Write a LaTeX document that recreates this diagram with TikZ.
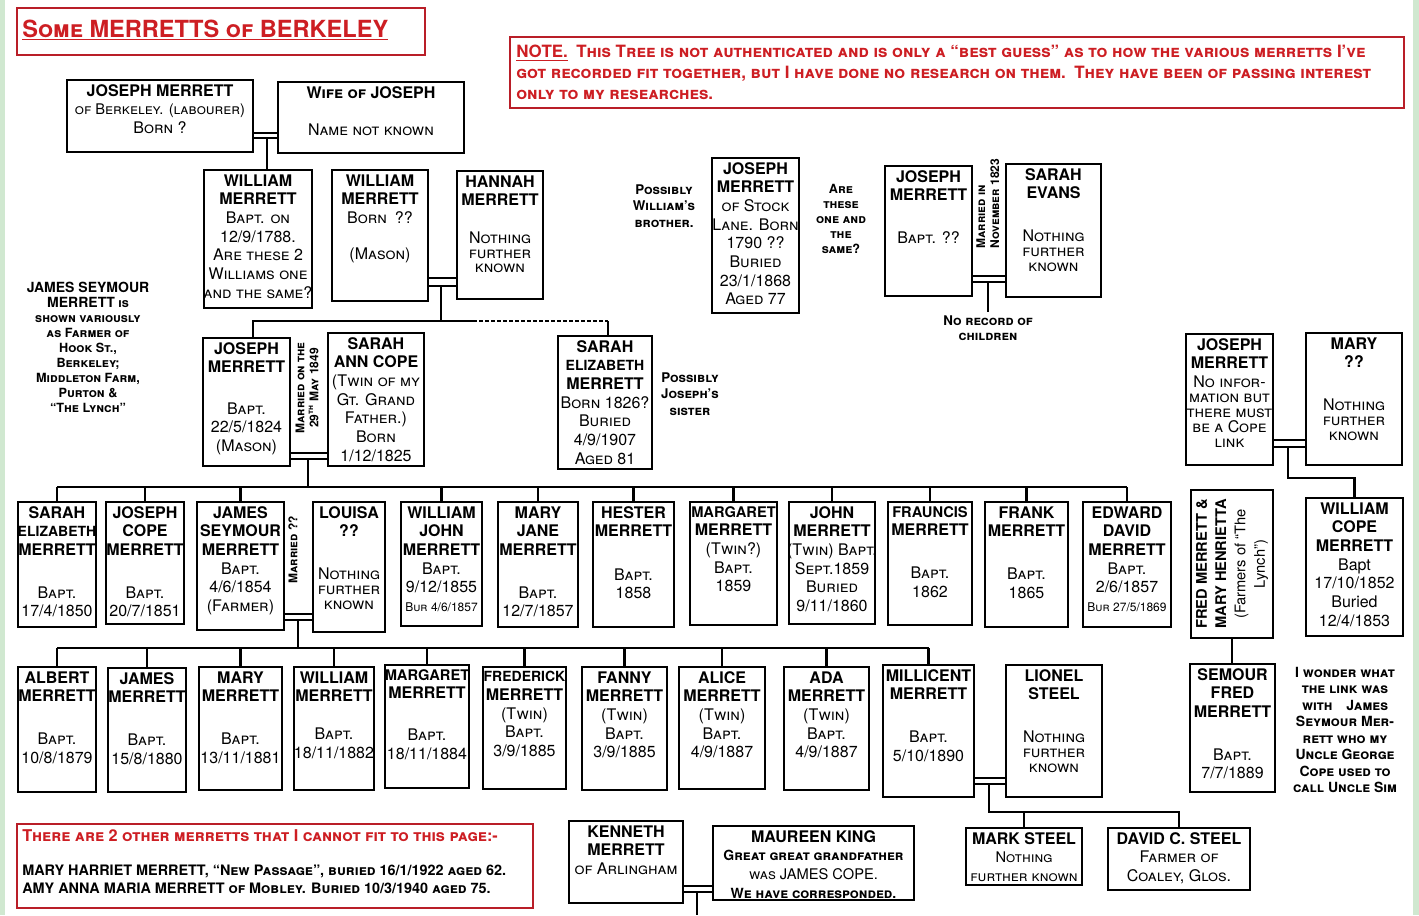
\documentclass[tikz,border=0pt]{standalone}
\usepackage{fontspec}
\setmainfont{TeX Gyre Heros}
\usetikzlibrary{fit}
\definecolor{tred}{RGB}{205,30,35}
\definecolor{bred}{RGB}{185,30,40}
\definecolor{bgg}{RGB}{208,232,208}
\tikzset{
 box/.style={draw, line width=1.8pt, inner sep=0pt, minimum size=0pt, rectangle},
 btext/.style={anchor=north, align=center, inner sep=0pt, font=\fontsize{12}{14}\selectfont\scshape},
 conn/.style={line width=1.9pt},
 marr/.style={line width=1.1pt},
 note/.style={align=center, inner sep=0pt, font=\fontsize{10}{12.5}\selectfont\bfseries\scshape},
 redbox/.style={draw=bred, line width=2pt, inner sep=0pt, minimum size=0pt, rectangle},
 rot/.style={rotate=90, align=center, inner sep=0pt, font=\fontsize{9}{10.5}\selectfont\bfseries\scshape},
}
\newcommand\nm[1]{{\bfseries #1}}
\newcommand\nmn[1]{{\bfseries\fontsize{10.5}{14}\selectfont #1}}
\newcommand\NFK{Nothing\\[-2.8pt]further\\[-2.8pt]known}
\newcommand\pbox[6]{%
  \node[box, fit={(#2,#3) (#4,#5)}] (#1) {};
  \node[btext] (#1-t) at ([yshift=-4pt]#1.north) {#6};}
\newcommand\marry[4]{%
  \draw[marr] (#1.east |- 0,#3) -- (#2.west |- 0,#3);
  \draw[marr] (#1.east |- 0,#4) -- (#2.west |- 0,#4);}
\begin{document}
\begin{tikzpicture}[x=0.75pt,y=-0.75pt]
\useasboundingbox (0,0) rectangle (1419,915);
\fill[bgg] (0,0) rectangle (1419,915);
\fill[white] (5,0) rectangle (1413,915);

% title and note
\node[redbox, fit={(17,8) (425,55)}] (title) {};
\node[anchor=west, inner sep=0pt, text=tred, font=\fontsize{17.7}{20}\selectfont\bfseries] (title-t) at (22,30) {\underline{\textsc{Some} MERRETTS \textsc{of} BERKELEY}};
\node[redbox, fit={(510,37) (1404,108)}] (note) {};
\node[anchor=north west, inner sep=0pt, text=tred, align=left, font=\fontsize{12.7}{15.75}\selectfont\bfseries\scshape] (note-t) at (516,45) {\underline{NOTE.}\enspace This Tree is not authenticated and is only a “best guess” as to how the various merretts I’ve\\got recorded fit together, but I have done no research on them.\enspace They have been of passing interest\\only to my researches.};

% generation 1
\pbox{jm1}{67}{80}{253}{152}{\nm{JOSEPH MERRETT}\\{\fontsize{11}{13}\selectfont of Berkeley. (labourer)}\\Born ?}
\pbox{wj}{278}{82}{464}{153}{\nm{Wife of JOSEPH}\\[14pt]Name not known}
\marry{jm1}{wj}{133}{138}
\coordinate (d1) at (267,138);
\draw[conn] (d1) -- (d1 |- 0,170);

% generation 2
\pbox{wm1}{204}{170}{312}{308}{\nm{WILLIAM}\\\nm{MERRETT}\\Bapt. on\\12/9/1788.\\Are these 2\\Williams one\\and the same?}
\pbox{wm2}{332}{170}{428}{301}{\nm{WILLIAM}\\\nm{MERRETT}\\Born\enspace ??\\[13pt](Mason)}
\pbox{hm}{457}{171}{543}{299}{\nm{HANNAH}\\\nm{MERRETT}\\[14pt]\NFK}
\marry{wm2}{hm}{278}{286}
\pbox{jsl}{712}{158}{799}{313}{\nm{JOSEPH}\\\nm{MERRETT}\\of Stock\\Lane. Born\\1790 ??\\Buried\\23/1/1868\\Aged 77}
\pbox{jm2}{885}{166}{972}{296}{\nm{JOSEPH}\\\nm{MERRETT}\\[18pt]Bapt. ??}
\pbox{se}{1006}{164}{1101}{297}{\nm{SARAH}\\\nm{EVANS}\\[18pt]\NFK}
\marry{jm2}{se}{276}{282}
\coordinate (d3) at (988,282);
\coordinate (d3e) at (988,312);
\draw[conn] (d3) -- (d3e);
\node[rot, anchor=north west, align=left] (mr2) at (976,249) {Married in\\November 1823};

\node[note] (n1) at (664,206) {Possibly\\William’s\\brother.};
\node[note, font=\fontsize{9.5}{11.2}\selectfont\bfseries\scshape] (n2) at (841,219) {Are\\these\\one and\\the\\same?};
\node[note, font=\fontsize{10}{11.3}\selectfont\bfseries\scshape] (n3) at (988,328) {No record of\\children};

% generation 3
\pbox{jm3}{203}{338}{290}{466}{\nm{JOSEPH}\\\nm{MERRETT}\\[17pt]Bapt.\\22/5/1824\\(Mason)}
\pbox{sac}{328}{333}{424}{466}{\nm{SARAH}\\\nm{ANN COPE}\\(Twin of my\\Gt. Grand\\Father.)\\Born\\1/12/1825}
\pbox{sem}{558}{336}{652}{469}{\nm{SARAH}\\\nmn{ELIZABETH}\\\nm{MERRETT}\\Born 1826?\\Buried\\4/9/1907\\Aged 81}
\marry{jm3}{sac}{453}{459}
\node[rot] (mr1) at (307,388) {Married on the\\29\textsuperscript{th} May 1849};
\coordinate (d2) at (441,286);
\coordinate (b1) at (253,321);
\coordinate (b2) at (441,321);
\coordinate (b2d) at (473,321);
\coordinate (b3) at (608,321);
\draw[conn] (d2) -- (b2);
\draw[conn] (b1 |- jm3.north) -- (b1) -- (b2d);
\draw[conn, dash pattern=on 3pt off 1.5pt] (b2d) -- (b3);
\draw[conn] (b3) -- (b3 |- sem.north);
\node[note] (n4) at (690,394) {Possibly\\Joseph’s\\sister};

\node[note, font=\fontsize{9.5}{11.25}\selectfont\bfseries\scshape] (n5) at (88,347) {{\fontsize{10.5}{11.25}\selectfont JAMES SEYMOUR}\\{\fontsize{10.5}{11.25}\selectfont MERRETT} is\\shown variously\\as Farmer of\\Hook St.,\\Berkeley;\\Middleton Farm,\\Purton \&\\“The Lynch”};

\pbox{jm4}{1186}{334}{1273}{465}{\nm{JOSEPH}\\\nm{MERRETT}\\No infor-\\[-2.8pt]mation but\\[-2.8pt]there must\\[-2.8pt]be a Cope\\[-2.8pt]link}
\pbox{my}{1306}{333}{1402}{465}{\nm{MARY}\\\nm{??}\\[18pt]\NFK}
\marry{jm4}{my}{440}{447}

% generation 4
\pbox{c1}{18}{502}{96}{627}{\nm{SARAH}\\\nmn{ELIZABETH}\\\nm{MERRETT}\\[18pt]Bapt.\\17/4/1850}
\pbox{c2}{106}{502}{184}{624}{\nm{JOSEPH}\\\nm{COPE}\\\nm{MERRETT}\\[18pt]Bapt.\\20/7/1851}
\pbox{c3}{197}{502}{284}{630}{\nm{JAMES}\\\nm{SEYMOUR}\\\nm{MERRETT}\\Bapt.\\4/6/1854\\(Farmer)}
\pbox{c4}{313}{502}{385}{632}{\nm{LOUISA}\\\nm{??}\\[18pt]\NFK}
\pbox{c5}{401}{502}{482}{626}{\nm{WILLIAM}\\\nm{JOHN}\\\nm{MERRETT}\\Bapt.\\9/12/1855\\{\fontsize{9}{10}\selectfont Bur 4/6/1857}}
\pbox{c6}{498}{502}{578}{627}{\nm{MARY}\\\nm{JANE}\\\nm{MERRETT}\\[18pt]Bapt.\\12/7/1857}
\pbox{c7}{593}{502}{674}{627}{\nm{HESTER}\\\nm{MERRETT}\\[18.5pt]Bapt.\\1858}
\pbox{c8}{690}{502}{777}{625}{{\bfseries\fontsize{11}{14}\selectfont MARGARET}\\\nm{MERRETT}\\(Twin?)\\Bapt.\\1859}
\pbox{c9}{789}{502}{875}{624}{\nm{JOHN}\\\nm{MERRETT}\\(Twin) Bapt.\\Sept.1859\\Buried\\9/11/1860}
\pbox{c10}{888}{502}{972}{625}{{\bfseries\fontsize{11}{14}\selectfont FRAUNCIS}\\\nm{MERRETT}\\[18pt]Bapt.\\1862}
\pbox{c11}{985}{502}{1068}{627}{\nm{FRANK}\\\nm{MERRETT}\\[18pt]Bapt.\\1865}
\pbox{c12}{1083}{502}{1171}{627}{\nm{EDWARD}\\\nm{DAVID}\\\nm{MERRETT}\\Bapt.\\2/6/1857\\{\fontsize{9}{10}\selectfont Bur 27/5/1869}}
\coordinate (d4) at (308,459);
\coordinate (cb) at (308,487);
\draw[conn] (d4) -- (cb);
\draw[conn] (c1.north |- cb) -- (c12.north |- cb);
\foreach \c in {c1,c2,c3,c5,c6,c7,c8,c9,c10,c11,c12}
  \draw[conn] (\c.north |- cb) -- (\c.north);
\marry{c3}{c4}{614}{620}
\node[rot] (mr3) at (293,550) {Married ??};

% right side
\pbox{wcm}{1306}{498}{1403}{636}{\nm{WILLIAM}\\\nm{COPE}\\\nm{MERRETT}\\{\upshape Bapt}\\17/10/1852\\{\upshape Buried}\\12/4/1853}
\coordinate (d6) at (1288,447);
\coordinate (d6b) at (1288,478);
\draw[conn] (d6) -- (d6b) -- (d6b -| wcm.north) -- (wcm.north);
\node[box, fit={(1191,490) (1273,638)}] (fmh) {};
\node[rotate=90, align=center, inner sep=0pt, font=\fontsize{11}{14.5}\selectfont] (fmh-t) at (fmh.center) {\bfseries FRED MERRETT \&\\\bfseries MARY HENRIETTA\\(Farmers of “The\\Lynch”)};
\pbox{sfm}{1190}{664}{1275}{792}{\nm{SEMOUR}\\\nm{FRED}\\\nm{MERRETT}\\[18pt]Bapt.\\7/7/1889}
\draw[conn] (fmh.south) -- (fmh.south |- sfm.north);
\node[note, font=\fontsize{10.5}{12.4}\selectfont\bfseries\scshape] (n6) at (1345,730) {I wonder what\\the link was\\with\quad James\\Seymour Mer-\\rett who my\\Uncle George\\Cope used to\\call Uncle Sim};

% generation 5
\pbox{g1}{18}{667}{96}{792}{\nm{ALBERT}\\\nm{MERRETT}\\[18pt]Bapt.\\10/8/1879}
\pbox{g2}{108}{668}{186}{792}{\nm{JAMES}\\\nm{MERRETT}\\[18pt]Bapt.\\15/8/1880}
\pbox{g3}{199}{667}{282}{790}{\nm{MARY}\\\nm{MERRETT}\\[18pt]Bapt.\\13/11/1881}
\pbox{g4}{294}{667}{374}{790}{\nm{WILLIAM}\\\nm{MERRETT}\\[14.5pt]Bapt.\\18/11/1882}
\pbox{g5}{385}{665}{469}{788}{{\bfseries\fontsize{11}{14}\selectfont MARGARET}\\\nm{MERRETT}\\[17.5pt]Bapt.\\18/11/1884}
\pbox{g6}{483}{667}{566}{789}{\nmn{FREDERICK}\\\nm{MERRETT}\\(Twin)\\Bapt.\\3/9/1885}
\pbox{g7}{582}{667}{667}{790}{\nm{FANNY}\\\nm{MERRETT}\\(Twin)\\Bapt.\\3/9/1885}
\pbox{g8}{679}{667}{765}{789}{\nm{ALICE}\\\nm{MERRETT}\\(Twin)\\Bapt.\\4/9/1887}
\pbox{g9}{784}{667}{869}{790}{\nm{ADA}\\\nm{MERRETT}\\(Twin)\\Bapt.\\4/9/1887}
\pbox{g10}{883}{665}{974}{797}{\nm{MILLICENT}\\\nm{MERRETT}\\[18pt]Bapt.\\5/10/1890}
\pbox{ls}{1006}{665}{1102}{797}{\nm{LIONEL}\\\nm{STEEL}\\[18pt]\NFK}
\coordinate (d5) at (298,620);
\coordinate (gb) at (298,648);
\draw[conn] (d5) -- (gb);
\draw[conn] (g1.north |- gb) -- (g10.north |- gb);
\foreach \g in {g1,g2,g3,g4,g5,g6,g7,g8,g9,g10}
  \draw[conn] (\g.north |- gb) -- (\g.north);
\marry{g10}{ls}{778}{784}

% bottom
\pbox{ms}{966}{828}{1082}{885}{\nm{MARK STEEL}\\{\fontsize{11}{12}\selectfont Nothing}\\{\fontsize{11}{12}\selectfont further known}}
\pbox{dcs}{1108}{828}{1250}{890}{\nm{DAVID C. STEEL}\\Farmer of\\Coaley, Glos.}
\coordinate (d7) at (989,784);
\coordinate (d7b) at (989,812);
\draw[conn] (d7) -- (d7b) -- (d7b -| dcs.north) -- (dcs.north);
\draw[conn] (ms.north |- d7b) -- (ms.north);

\pbox{km}{569}{821}{683}{903}{\nm{KENNETH}\\\nm{MERRETT}\\of Arlingham}
\pbox{mk}{713}{826}{914}{900}{\nm{MAUREEN KING}\\{\bfseries\fontsize{10.5}{12}\selectfont Great great grandfather}\\{\fontsize{11}{12}\selectfont was JAMES COPE.}\\{\bfseries\fontsize{10.5}{12}\selectfont We have corresponded.}}
\marry{km}{mk}{886}{892}
\coordinate (d8) at (697,892);
\coordinate (d8b) at (697,915);
\draw[conn] (d8) -- (d8b);

\node[redbox, fit={(17,824) (533,908)}] (oth) {};
\node[anchor=north west, inner sep=0pt, align=left, font=\fontsize{10.8}{13}\selectfont\bfseries\scshape] (oth-t) at (22,829) {\textcolor{tred}{\fontsize{12.2}{13}\selectfont There are 2 other merretts that I cannot fit to this page:-}\\[13pt]MARY HARRIET MERRETT, “New Passage”, buried 16/1/1922 aged 62.\\AMY ANNA MARIA MERRETT of Mobley. Buried 10/3/1940 aged 75.};
\end{tikzpicture}
\end{document}
